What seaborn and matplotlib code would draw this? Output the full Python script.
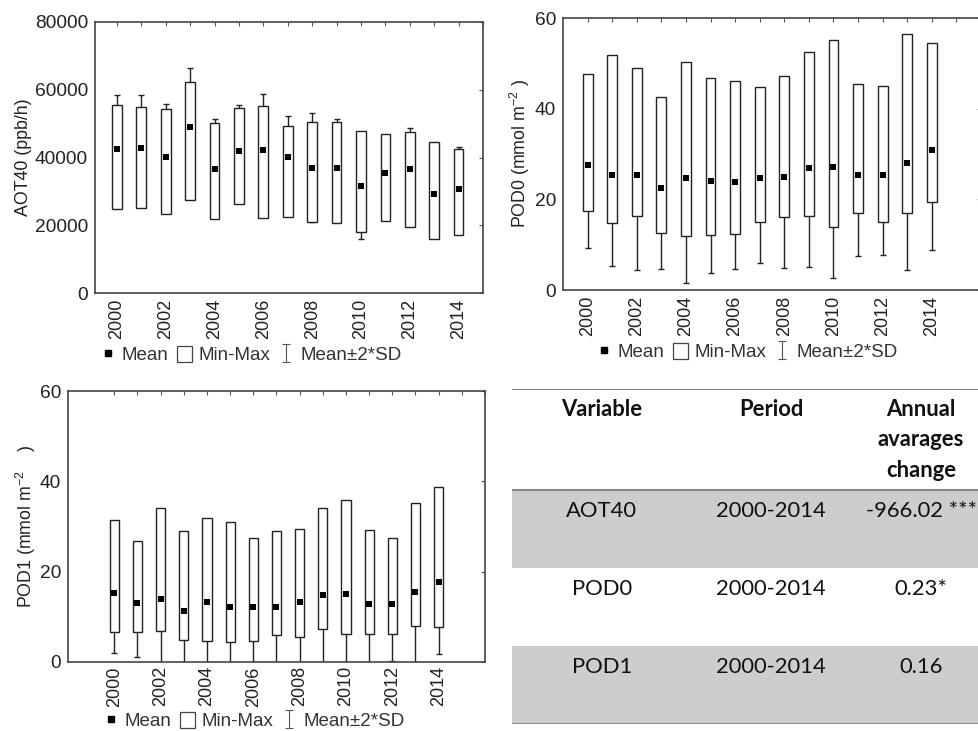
import numpy as np
import pandas as pd
import matplotlib
matplotlib.use("Agg")
import matplotlib.pyplot as plt
import seaborn as sns
from matplotlib.lines import Line2D
from matplotlib.patches import Patch

# --- data ---
years = np.arange(2000, 2015)

aot_min = [24700, 25100, 23400, 27400, 21900, 26200, 22100, 22500, 20900, 20700, 18100, 21200, 19500, 15900, 17100]
aot_max = [55400, 54800, 54200, 62200, 50200, 54500, 55100, 49200, 50500, 50500, 47900, 46800, 47600, 44600, 42500]
aot_mean = [42600, 42900, 40100, 48900, 36700, 42000, 42200, 40100, 37000, 37000, 31600, 35400, 36500, 29300, 30800]
aot_2sd = [15900, 15600, 15800, 17400, 14700, 13500, 16600, 12200, 16000, 14400, 15600, 10000, 12100, 12000, 12400]

pod0_min = [17.5, 14.7, 16.3, 12.5, 11.9, 12.1, 12.3, 14.9, 16.1, 16.3, 13.9, 16.9, 15.0, 16.9, 19.4]
pod0_max = [47.6, 51.8, 49.0, 42.6, 50.4, 46.8, 46.2, 44.8, 47.3, 52.5, 55.1, 45.4, 45.0, 56.4, 54.4]
pod0_mean = [27.5, 25.3, 25.4, 22.6, 24.8, 24.0, 23.8, 24.8, 25.0, 26.9, 27.1, 25.3, 25.3, 28.0, 30.9]
pod0_2sd = [18.2, 19.9, 21.0, 17.9, 23.3, 20.3, 19.1, 18.8, 20.1, 21.8, 24.5, 17.8, 17.6, 23.6, 22.0]

pod1_min = [6.6, 6.6, 6.8, 4.9, 4.6, 4.4, 4.6, 6.0, 5.5, 7.3, 6.3, 6.3, 6.3, 8.0, 7.8]
pod1_max = [31.4, 26.9, 34.2, 29.0, 31.8, 31.0, 27.4, 29.0, 29.5, 34.0, 35.8, 29.3, 27.4, 35.1, 38.7]
pod1_mean = [15.3, 13.1, 13.9, 11.3, 13.3, 12.2, 12.1, 12.2, 13.3, 14.9, 15.0, 12.8, 12.8, 15.6, 17.8]
pod1_2sd = [13.2, 11.9, 15.0, 12.5, 14.0, 13.0, 13.0, 13.0, 14.0, 16.0, 16.0, 13.5, 12.5, 16.0, 16.1]

table_header = ["Variable", "Period", "Annual\navarages\nchange"]
table_vars = ["AOT40", "POD0", "POD1"]
table_period = ["2000-2014", "2000-2014", "2000-2014"]
table_change = ["-966.02 ***", "0.23*", "0.16"]

legend_labels = ["Mean", "Min-Max", "Mean±2*SD"]

# --- style ---
sns.set_style("white")
plt.rcParams['font.family'] = ['Liberation Sans', 'DejaVu Sans']
plt.rcParams['mathtext.fontset'] = 'custom'
plt.rcParams['mathtext.rm'] = 'Liberation Sans'
plt.rcParams['mathtext.it'] = 'Liberation Sans:italic'

ink = '#222222'
W, H = 979, 731
fig = plt.figure(figsize=(W / 100, H / 100), dpi=100)


def panel(rect, mins, maxs, means, sd2, ylim, yticks, xlim, ylabel, lab_x, xpad=4):
    ax = fig.add_axes(rect)
    df = pd.DataFrame({'year': years, 'min': mins, 'max': maxs, 'mean': means, 'sd2': sd2})
    ax.errorbar(df['year'], df['mean'], yerr=df['sd2'], fmt='none', ecolor=ink,
                elinewidth=1.0, capsize=2.3, capthick=1.0, zorder=1)
    ax.bar(df['year'], df['max'] - df['min'], bottom=df['min'], width=0.4,
           facecolor='white', edgecolor=ink, linewidth=1.0, zorder=2)
    sns.scatterplot(data=df, x='year', y='mean', marker='s', s=18, color='black',
                    edgecolor='black', linewidth=0, zorder=3, ax=ax, legend=False)
    ax.set_xlim(*xlim)
    ax.set_ylim(*ylim)
    ax.set_yticks(yticks)
    ticks = np.arange(2000, int(xlim[1]) + 1)
    ax.set_xticks(ticks)
    ax.set_xticklabels([str(t) if t % 2 == 0 and t <= 2014 else '' for t in ticks],
                       rotation=90)
    ax.tick_params(axis='both', direction='in', top=True, right=True, bottom=False,
                   left=False, length=3, width=0.8, color='#555555',
                   labelcolor=ink, pad=5)
    ax.tick_params(axis='x', pad=xpad, labelsize=13)
    ax.tick_params(axis='y', labelsize=13.8)
    for s in ax.spines.values():
        s.set_color('#444444')
        s.set_linewidth(1.2)
    ax.set_xlabel('')
    ax.set_ylabel(ylabel, fontsize=12.8, color=ink)
    ax.yaxis.set_label_coords(lab_x, 0.5)
    return ax


def legend_at(ax, xc, yc):
    h_mean = Line2D([], [], marker='s', ls='none', color='black', markersize=3.8)
    h_box = Patch(facecolor='white', edgecolor='#444444', linewidth=0.9)
    h_err = ax.errorbar([np.nan], [np.nan], yerr=[1], fmt='none', ecolor='#555555',
                        elinewidth=0.8, capsize=3, capthick=0.8)
    fig.legend([h_mean, h_box, h_err], legend_labels, loc='center', bbox_to_anchor=(xc, yc),
               ncol=3, frameon=False, fontsize=13.5, handlelength=0.8, handleheight=1.0,
               handletextpad=0.35, columnspacing=0.45, labelcolor='#333333',
               borderaxespad=0, borderpad=0)


def frac(x0, y0, x1, y1):
    return [x0 / W, 1 - y1 / H, (x1 - x0) / W, (y1 - y0) / H]


ax1 = panel(frac(95, 22, 483, 293), aot_min, aot_max, aot_mean, aot_2sd, (0, 80000),
            [0, 20000, 40000, 60000, 80000], (1999.1, 2015.0), 'AOT40 (ppb/h)', -0.162)
ax2 = panel(frac(563, 18, 981, 290), pod0_min, pod0_max, pod0_mean, pod0_2sd, (0, 60),
            [0, 20, 40, 60], (1999.0, 2016.0), 'POD0 (mmol m$^{-2}$ )', -0.074)
ax3 = panel(frac(68, 391, 485, 662), pod1_min, pod1_max, pod1_mean, pod1_2sd, (0, 60),
            [0, 20, 40, 60], (1998.0, 2016.0), 'POD1 (mmol m$^{-2}$    )', -0.072, xpad=3)

legend_at(ax1, 251 / W, 1 - 355 / H)
legend_at(ax2, 747 / W, 1 - 352 / H)
legend_at(ax3, 254 / W, 1 - 721 / H)

# --- table ---
axt = fig.add_axes(frac(512, 389, 985, 724))
axt.set_xlim(0, 1)
axt.set_ylim(4.3, 0)
axt.axis('off')
col_x = [0.19, 0.548, 0.865]
tfont = dict(family=['Lato', 'DejaVu Sans'], fontsize=15.8, color='#111111')
for i in range(len(table_vars)):
    top = 1.3 + i
    if i % 2 == 0:
        axt.axhspan(top, top + 1, color='#cdcdcd', lw=0)
    for cx, txt in zip(col_x, [table_vars[i], table_period[i], table_change[i]]):
        axt.text(cx, top + 0.27, txt, ha='center', va='center', **tfont)
for cx, txt in zip(col_x, table_header):
    for j, line in enumerate(txt.split('\n')):
        axt.text(cx, 0.26 + j * 0.39, line, ha='center', va='center', fontweight='bold', **tfont)
for yy in [0, 1.3, 4.3]:
    axt.axhline(yy, color='#8a8a8a', lw=1.5)

fig.savefig('out.png', dpi=100)
